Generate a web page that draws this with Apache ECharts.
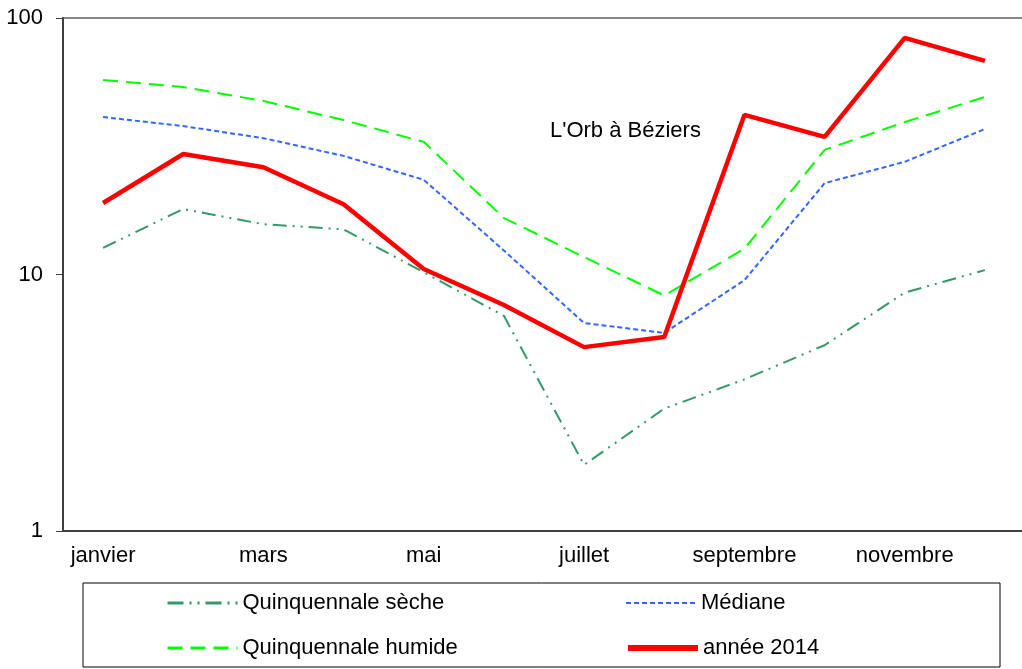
<!DOCTYPE html>
<html>
<head>
<meta charset="utf-8">
<script src="https://cdn.jsdelivr.net/npm/echarts@6/dist/echarts.min.js"></script>
<style>
	html, body { margin: 0; padding: 0; background: #fff; }
	#main { width: 1022px; height: 669px; }
</style>
</head>
<body>
<div id="main"></div>
<script>
// mois
var mois = ['janvier', 'février', 'mars', 'avril', 'mai', 'juin', 'juillet', 'août', 'septembre', 'octobre', 'novembre', 'décembre'];
// débits (m3/s)
var quinqSeche = [12.7, 18.0, 15.7, 15.0, 10.2, 6.9, 1.81, 3.0, 3.9, 5.3, 8.5, 10.4];
var mediane = [41.1, 37.9, 34.0, 29.0, 23.4, 12.4, 6.47, 5.92, 9.5, 22.7, 27.5, 36.9];
var quinqHumide = [57.3, 53.8, 47.5, 40.0, 32.9, 16.6, 11.7, 8.28, 12.6, 30.6, 39.3, 49.2];
var annee2014 = [19.0, 29.5, 26.2, 18.8, 10.5, 7.6, 5.21, 5.71, 41.9, 34.4, 83.6, 68.0];
var titre = "L'Orb à Béziers";

var police = 'Liberation Sans, Arial, sans-serif';
var myChart = echarts.init(document.getElementById('main'));

// une légende par entrée, pour placer les deux colonnes
function legende(nom, x, y, trait) {
	return {
		data: [nom],
		left: x,
		top: y,
		padding: 0,
		itemWidth: 70,
		itemHeight: 14,
		itemGap: 6,
		itemStyle: { opacity: 0 },
		lineStyle: trait,
		textStyle: { fontFamily: police, fontSize: 22, color: '#000', lineHeight: 24 },
		inactiveColor: '#000',
		selectedMode: false
	};
}

myChart.setOption({
	animation: false,
	backgroundColor: '#fff',
	grid: {
		left: 63,
		top: 18,
		width: 962,
		height: 513,
		outerBoundsMode: 'none'
	},
	graphic: [
		{
			type: 'line',
			shape: { x1: 63, y1: 18, x2: 1022, y2: 18 },
			style: { stroke: '#888', lineWidth: 2 }
		},
		{
			type: 'text',
			left: 550,
			top: 120,
			style: { text: titre, font: '22px ' + police, fill: '#000' }
		},
		{
			type: 'rect',
			shape: { x: 83, y: 583, width: 917, height: 84 },
			style: { fill: 'none', stroke: '#000', lineWidth: 1 }
		}
	],
	legend: [
		legende('Quinquennale sèche', 166, 591, { width: 3, type: [16, 6, 2, 6, 2, 6] }),
		legende('Médiane', 625, 591, { width: 2, type: [5, 3] }),
		legende('Quinquennale humide', 166, 636, { width: 3, type: [15, 8] }),
		legende('année 2014', 625, 636, { width: 6, type: 'solid' })
	],
	xAxis: {
		type: 'category',
		data: mois,
		boundaryGap: true,
		axisLine: { lineStyle: { color: '#404040', width: 2 } },
		axisTick: { inside: true, length: 5, interval: 0, lineStyle: { color: '#404040' } },
		axisLabel: { interval: 1, margin: 14, fontFamily: police, fontSize: 22, color: '#000' },
		splitLine: { show: false }
	},
	yAxis: {
		type: 'log',
		logBase: 10,
		min: 1,
		max: 100,
		axisLine: { show: true, lineStyle: { color: '#404040', width: 2 } },
		axisTick: { show: true, length: 7, lineStyle: { color: '#404040' } },
		axisLabel: { margin: 20, fontFamily: police, fontSize: 22, color: '#000' },
		minorTick: { show: false },
		splitLine: { show: false }
	},
	series: [
		{
			name: 'Quinquennale sèche',
			type: 'line',
			data: quinqSeche,
			symbol: 'none',
			color: '#339966',
			lineStyle: { color: '#339966', width: 2, type: [14, 6, 2, 6, 2, 6] }
		},
		{
			name: 'Médiane',
			type: 'line',
			data: mediane,
			symbol: 'none',
			color: '#3366ff',
			lineStyle: { color: '#3366ff', width: 2, type: [5, 3] }
		},
		{
			name: 'Quinquennale humide',
			type: 'line',
			data: quinqHumide,
			symbol: 'none',
			color: '#00ff00',
			lineStyle: { color: '#00ff00', width: 2, type: [15, 8] }
		},
		{
			name: 'année 2014',
			type: 'line',
			data: annee2014,
			symbol: 'none',
			color: '#ff0000',
			z: 5,
			lineStyle: { color: '#ff0000', width: 4.5 }
		}
	]
});
</script>
</body>
</html>
